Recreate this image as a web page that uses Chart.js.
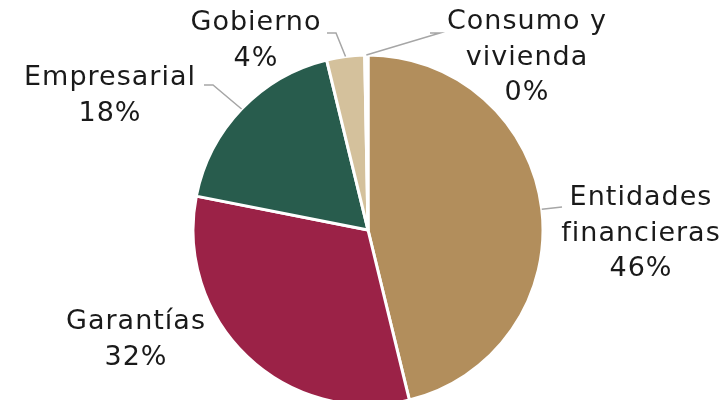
<!DOCTYPE html>
<html>
<head>
<meta charset="utf-8">
<script src="https://cdn.jsdelivr.net/npm/chart.js@4"></script>
<style>
  html, body { margin: 0; padding: 0; background: #fff; overflow: hidden; }
</style>
</head>
<body>
<canvas id="carteraChart" width="725" height="400"></canvas>
<script>
// Categorias (cada una en sus lineas de texto)
const categorias = [['Entidades', 'financieras'], ['Garantías'], ['Empresarial'], ['Gobierno'], ['Consumo y', 'vivienda']];
// Participacion de cada segmento (%)
const valores = [46.2, 31.9, 18.1, 3.5, 0.3];
const colores = ['#B28E5C', '#9B2247', '#285C4D', '#D4C19C', '#FFFFFF'];

// Posicion de las etiquetas y lineas guia
const posEtiquetas = [
    { x: 641, y: 198, guia: [[562, 207]] },
    { x: 136, y: 322, guia: null },
    { x: 110, y: 78, guia: [[213, 85], [204, 85]] },
    { x: 256, y: 23, guia: [[336, 33], [327, 33]] },
    { x: 527, y: 22, guia: [[440, 33], [430, 33]] }
];

const etiquetasPlugin = {
    id: 'etiquetas',
    afterDraw(chart) {
        const ctx = chart.ctx;
        const meta = chart.getDatasetMeta(0);
        const total = valores.reduce((a, b) => a + b, 0);
        ctx.save();
        meta.data.forEach((arc, i) => {
            const p = arc.getProps(['x', 'y', 'startAngle', 'endAngle', 'outerRadius'], true);
            const pos = posEtiquetas[i];
            if (pos.guia) {
                const mid = (p.startAngle + p.endAngle) / 2;
                ctx.beginPath();
                ctx.moveTo(p.x + Math.cos(mid) * p.outerRadius, p.y + Math.sin(mid) * p.outerRadius);
                pos.guia.forEach(pt => ctx.lineTo(pt[0], pt[1]));
                ctx.strokeStyle = '#A6A6A6';
                ctx.lineWidth = 1.5;
                ctx.stroke();
            }
            const lineas = categorias[i].concat([Math.round(valores[i] / total * 100) + '%']);
            ctx.fillStyle = '#1a1a1a';
            ctx.font = '27px "DejaVu Sans"';
            ctx.letterSpacing = '1px';
            ctx.textAlign = 'center';
            ctx.textBaseline = 'middle';
            lineas.forEach((t, j) => ctx.fillText(t, pos.x, pos.y + j * 35.5));
        });
        ctx.restore();
    }
};

const ctxCartera = document.getElementById('carteraChart').getContext('2d');

new Chart(ctxCartera, {
    type: 'pie',
    data: {
        labels: categorias,
        datasets: [{
            data: valores,
            backgroundColor: colores,
            borderColor: '#ffffff',
            borderWidth: 3
        }]
    },
    options: {
        responsive: false,
        animation: false,
        radius: 175,
        layout: { padding: { left: 11, right: 0, top: 60, bottom: 0 } },
        plugins: {
            legend: { display: false },
            tooltip: { enabled: false }
        }
    },
    plugins: [etiquetasPlugin]
});
</script>
</body>
</html>
